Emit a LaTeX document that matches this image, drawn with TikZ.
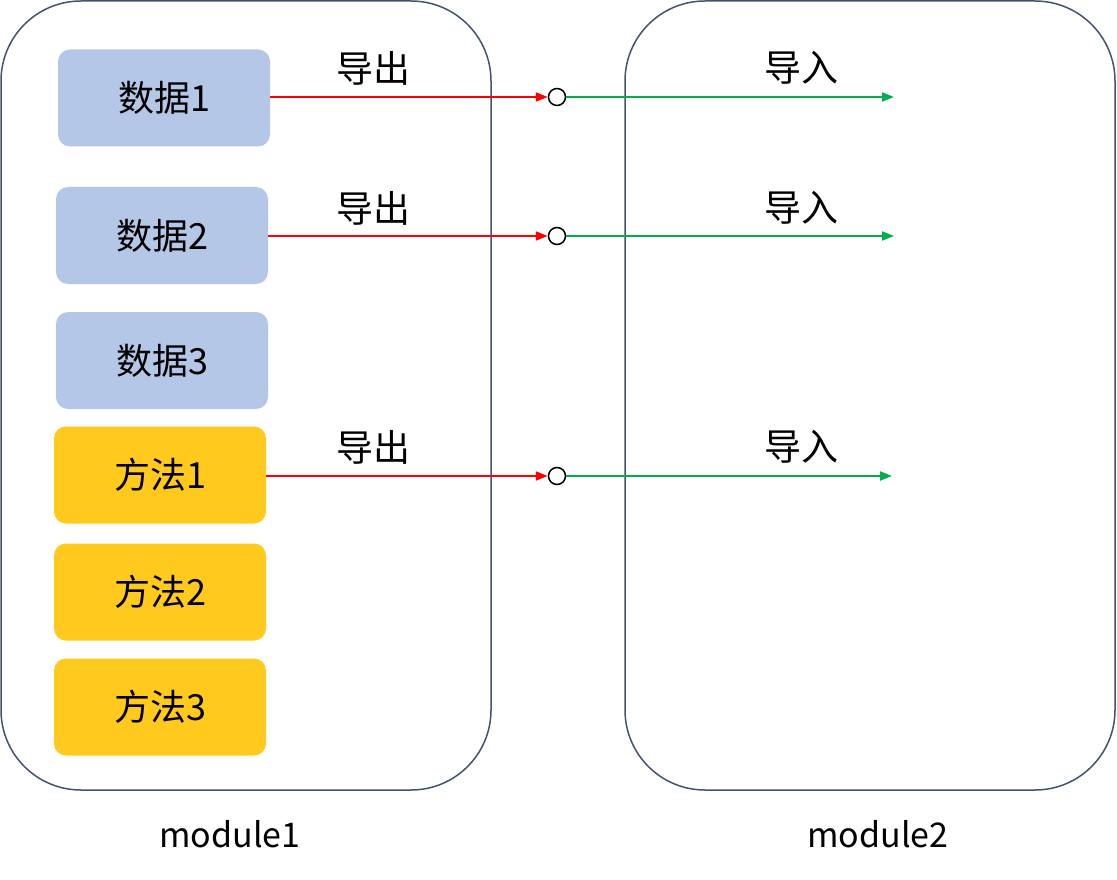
\documentclass[tikz,border=0pt]{standalone}
\usepackage{fontspec}
\setmainfont{Noto Sans CJK SC}
\usetikzlibrary{arrows.meta}
\definecolor{frame}{HTML}{44546A}
\definecolor{datab}{HTML}{B4C7E7}
\definecolor{methy}{HTML}{FFC91E}
\definecolor{ared}{HTML}{FF0000}
\definecolor{agreen}{HTML}{00B050}
\tikzset{
  modbox/.style={draw=frame, line width=1.5pt, rounded corners=80pt},
  item/.style={rounded corners=12pt, minimum width=212pt, minimum height=97pt, inner sep=0pt, font=\fontsize{36}{40}\selectfont},
  databox/.style={item, fill=datab},
  methbox/.style={item, fill=methy},
  junction/.style={circle, draw=black, line width=1.5pt, fill=white, minimum size=17pt, inner sep=0pt},
  lbl/.style={font=\fontsize{37}{40}\selectfont, inner sep=0pt},
  modlbl/.style={font=\fontsize{34}{38}\selectfont, inner sep=0pt},
  exparrow/.style={draw=ared, line width=2pt, -{Triangle[length=12pt,width=9pt]}},
  imparrow/.style={draw=agreen, line width=2pt, -{Triangle[length=12pt,width=9pt]}},
}
\begin{document}
\begin{tikzpicture}[x=1pt,y=-1pt]
\useasboundingbox[fill=white] (0,0) rectangle (1117,880);
\draw[modbox] (1,1) rectangle (491,790);
\draw[modbox] (625,1) rectangle (1115,790);
\node[databox] (d1) at (164,98) {数据1};
\node[databox] (d2) at (162,235.5) {数据2};
\node[databox] (d3) at (162,360.5) {数据3};
\node[methbox] (m1) at (160,475) {方法1};
\node[methbox] (m2) at (160,592) {方法2};
\node[methbox] (m3) at (160,707) {方法3};
\node[junction] (j1) at (557,97) {};
\node[junction] (j2) at (557,236) {};
\node[junction] (j3) at (557,476) {};
\coordinate (e1) at (894,97);
\coordinate (e2) at (894,236);
\coordinate (e3) at (892,476);
\draw[exparrow] (d1.east |- j1) -- (j1.west);
\draw[exparrow] (d2.east |- j2) -- (j2.west);
\draw[exparrow] (m1.east |- j3) -- (j3.west);
\draw[imparrow] (j1.east) -- (e1);
\draw[imparrow] (j2.east) -- (e2);
\draw[imparrow] (j3.east) -- (e3);
\node[lbl] (x1) at (373,68) {导出};
\node[lbl] (x2) at (373,208) {导出};
\node[lbl] (x3) at (373,447) {导出};
\node[lbl] (i1) at (801,68) {导入};
\node[lbl] (i2) at (801,208) {导入};
\node[lbl] (i3) at (801,447) {导入};
\node[modlbl] (mod1) at (230,834) {module1};
\node[modlbl] (mod2) at (878,834) {module2};
\end{tikzpicture}
\end{document}
